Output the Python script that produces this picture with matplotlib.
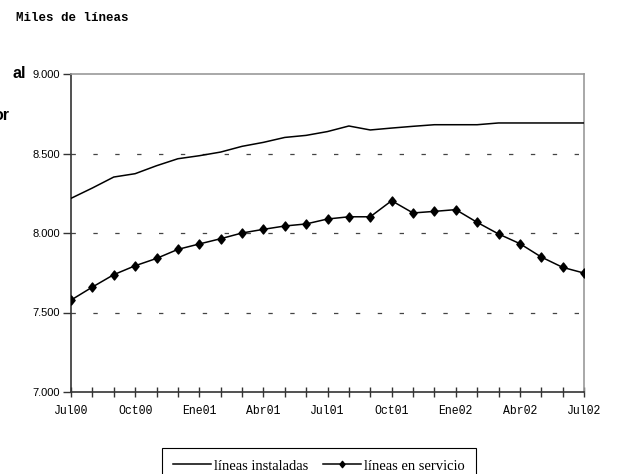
import matplotlib
matplotlib.use("Agg")
import matplotlib.pyplot as plt
from matplotlib.ticker import FuncFormatter, FixedLocator
from matplotlib.path import Path

# ---- data ----
months = ["Jul00", "Ago00", "Sep00", "Oct00", "Nov00", "Dic00", "Ene01", "Feb01", "Mar01",
          "Abr01", "May01", "Jun01", "Jul01", "Ago01", "Sep01", "Oct01", "Nov01", "Dic01",
          "Ene02", "Feb02", "Mar02", "Abr02", "May02", "Jun02", "Jul02"]
instaladas = [8218, 8283, 8352, 8373, 8423, 8467, 8486, 8509, 8545, 8570, 8601, 8614, 8638,
              8673, 8648, 8660, 8671, 8681, 8681, 8681, 8692, 8692, 8692, 8692, 8692]
en_servicio = [7578, 7660, 7738, 7794, 7840, 7897, 7931, 7964, 8000, 8023, 8044, 8057, 8088,
               8102, 8102, 8203, 8126, 8136, 8147, 8067, 7994, 7933, 7849, 7784, 7748]
shown_labels = ["Jul00", "Oct00", "Ene01", "Abr01", "Jul01", "Oct01", "Ene02", "Abr02", "Jul02"]
y_ticks = [7000, 7500, 8000, 8500, 9000]
series_names = ["líneas instaladas", "líneas en servicio"]
y_title = "Miles de líneas"

diamond = Path([(0, 1), (0.8, 0), (0, -1), (-0.8, 0), (0, 1)],
               [Path.MOVETO, Path.LINETO, Path.LINETO, Path.LINETO, Path.CLOSEPOLY])

fig = plt.figure(figsize=(6.18, 4.74), dpi=100)
ax = fig.add_axes([71 / 618, 1 - 392 / 474, (584 - 71) / 618, (392 - 74) / 474])

x = list(range(len(months)))
ax.plot(x, instaladas, color="black", lw=1.1, label=series_names[0], zorder=3)
ax.plot(x, en_servicio, color="black", lw=1.1, marker=diamond, markersize=6.5,
        markerfacecolor="black", markeredgecolor="black", label=series_names[1], zorder=3)

ax.set_xlim(0, len(months) - 1)
ax.set_ylim(7000, 9000)

# y axis
ax.yaxis.set_major_locator(FixedLocator(y_ticks))
ax.yaxis.set_major_formatter(FuncFormatter(lambda v, p: f"{int(v):,}".replace(",", ".")))
ax.tick_params(axis="y", direction="out", length=6, width=1, color="#333333",
               labelsize=8, pad=2)
for t in ax.get_yticklabels():
    t.set_fontfamily("Liberation Sans")

# x axis: ticks at every month, labels every 3 months
ax.set_xticks(x)
ax.set_xticklabels([m if m in shown_labels else "" for m in months],
                   fontfamily="Liberation Mono", fontsize=8.3)
ax.tick_params(axis="x", direction="inout", length=7, width=1, color="#333333", pad=6)

# grid
for v in y_ticks[1:-1]:
    ax.axhline(v, color="#444444", lw=0.9, linestyle=(0, (3.5, 14)), zorder=1)

# spines
for side in ("left", "bottom"):
    ax.spines[side].set_color("#333333")
    ax.spines[side].set_linewidth(1.2)
for side in ("top", "right"):
    ax.spines[side].set_color("#999999")
    ax.spines[side].set_linewidth(1.2)

# titles / fragments
fig.text(16 / 618, 1 - 18 / 474, y_title, fontfamily="Liberation Mono", fontweight="bold",
         fontsize=9, va="center", ha="left")
fig.text(26 / 618, 1 - 73 / 474, "al", fontfamily="Liberation Sans", fontweight="bold",
         fontsize=11.5, va="center", ha="right")
fig.text(9 / 618, 1 - 115 / 474, "or", fontfamily="Liberation Sans", fontweight="bold",
         fontsize=11.5, va="center", ha="right")

leg = fig.legend(loc="lower center", bbox_to_anchor=(319 / 618, -0.02), ncol=2,
                 frameon=True, fancybox=False, edgecolor="black", framealpha=1,
                 prop={"family": "Liberation Serif", "size": 10.5},
                 handlelength=2.6, handletextpad=0.2, columnspacing=1.0,
                 borderpad=0.75, borderaxespad=0, markerscale=0.7)
leg.get_frame().set_linewidth(0.8)

fig.savefig("out.png", dpi=100)
